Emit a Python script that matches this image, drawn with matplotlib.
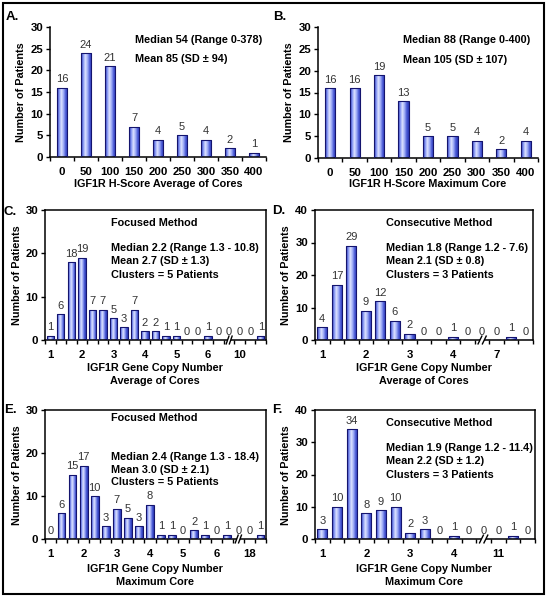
import numpy as np
import matplotlib
matplotlib.use("Agg")
import matplotlib.pyplot as plt
from matplotlib.colors import LinearSegmentedColormap
from matplotlib.patches import Rectangle
from matplotlib.transforms import blended_transform_factory

plt.rcParams['font.family'] = ['Liberation Sans', 'DejaVu Sans']

# data
a_labels = ['0', '50', '100', '150', '200', '250', '300', '350', '400']
a_counts = [16, 24, 21, 7, 4, 5, 4, 2, 1]

b_labels = ['0', '50', '100', '150', '200', '250', '300', '350', '400']
b_counts = [16, 16, 19, 13, 5, 5, 4, 2, 4]

c_labels = ['1', '', '', '2', '', '', '3', '', '', '4', '', '', '5', '', '', '6', '', '', '10', '', '']
c_counts = [1, 6, 18, 19, 7, 7, 5, 3, 7, 2, 2, 1, 1, 0, 0, 1, 0, 0, 0, 0, 1]
c_break = 17

d_labels = ['1', '', '', '2', '', '', '3', '', '', '4', '', '', '7', '', '']
d_counts = [4, 17, 29, 9, 12, 6, 2, 0, 0, 1, 0, 0, 0, 1, 0]
d_break = 11

e_labels = ['1', '', '', '2', '', '', '3', '', '', '4', '', '', '5', '', '', '6', '', '', '18', '']
e_counts = [0, 6, 15, 17, 10, 3, 7, 5, 3, 8, 1, 1, 0, 2, 1, 0, 1, 0, 0, 1]
e_break = 17

f_labels = ['1', '', '', '2', '', '', '3', '', '', '4', '', '', '11', '', '']
f_counts = [3, 10, 34, 8, 9, 10, 2, 3, 0, 1, 0, 0, 0, 1, 0]
f_break = 11

W, H = 547, 600
fig = plt.figure(figsize=(W / 100, H / 100), dpi=100)

grad_cmap = LinearSegmentedColormap.from_list(
    'bar', ['#2c3cbc', '#8494f2', '#dde3ff', '#a0adf6', '#4b5bd6', '#2a38b6'])
grad = np.linspace(0, 1, 64).reshape(1, -1)


def rect(left, top, right, bottom):
    return [left / W, 1 - bottom / H, (right - left) / W, (bottom - top) / H]


def ftext(x, y, s, **kw):
    fig.text(x / W, 1 - y / H, s, va='center', **kw)


def panel(box, labels, counts, ymax, ystep, width, full_box, brk=None):
    ax = fig.add_axes(rect(*box))
    x = np.arange(len(counts))
    bars = ax.bar(x, counts, width=width, facecolor='none',
                  edgecolor='#14146e', linewidth=0.8, zorder=3)
    for p, v in zip(bars.patches, counts):
        if v <= 0:
            continue
        x0 = p.get_x()
        im = ax.imshow(grad, extent=[x0, x0 + p.get_width(), 0, v],
                       aspect='auto', cmap=grad_cmap, zorder=2)
        im.set_clip_path(p)
    for i, v in enumerate(counts):
        ax.annotate(str(v), (i, v), xytext=(0, 2.5), textcoords='offset points',
                    ha='center', va='bottom', fontsize=8, color='#333333')
    ax.set_xlim(-0.5, len(counts) - 0.5)
    ax.set_ylim(0, ymax)
    ax.set_yticks(np.arange(0, ymax + 1, ystep))
    ticks = [i for i, s in enumerate(labels) if s]
    ax.set_xticks(ticks)
    ax.set_xticklabels([labels[i] for i in ticks], fontweight='bold', fontsize=8.2)
    ax.set_xticks(np.arange(-0.5, len(counts)), minor=True)
    ax.tick_params(axis='x', which='major', length=0, pad=7)
    ax.tick_params(axis='x', which='minor', length=3, width=1, direction='out')
    ax.tick_params(axis='y', length=3, width=1, direction='out', pad=2,
                   labelsize=8.2)
    for t in ax.get_yticklabels():
        t.set_fontweight('bold')
    for side in ['left', 'bottom', 'top', 'right']:
        ax.spines[side].set_linewidth(1.1)
    if not full_box:
        ax.spines['top'].set_visible(False)
        ax.spines['right'].set_visible(False)
    if brk is not None:
        tr = blended_transform_factory(ax.transData, ax.transAxes)
        ax.add_patch(Rectangle((brk - 0.15, -0.03), 0.3, 0.06, transform=tr,
                               facecolor='white', edgecolor='none',
                               clip_on=False, zorder=5))
        for dx in (-0.15, 0.15):
            ax.plot([brk + dx - 0.13, brk + dx + 0.13], [-0.03, 0.03],
                    transform=tr, color='black', lw=1, clip_on=False, zorder=6)
    return ax


panel((50, 27, 266, 157), a_labels, a_counts, 30, 5, 0.42, False)
panel((318, 27, 538, 158), b_labels, b_counts, 30, 5, 0.42, False)
panel((45, 210, 266, 340), c_labels, c_counts, 30, 10, 0.7, True, c_break)
panel((315, 210, 533, 340), d_labels, d_counts, 40, 10, 0.7, True, d_break)
panel((45, 410, 266, 539), e_labels, e_counts, 30, 10, 0.7, True, e_break)
panel((315, 410, 535, 539), f_labels, f_counts, 40, 10, 0.7, True, f_break)

bold = dict(fontweight='bold', fontsize=7.8)

# panel letters
for lx, ly, s in [(6, 17, 'A.'), (273, 17, 'B.'), (4, 212, 'C.'),
                  (272, 211, 'D.'), (4, 410, 'E.'), (272, 410, 'F.')]:
    ftext(lx, ly, s, fontweight='bold', fontsize=9.5)

# y labels
for lx, ly in [(21, 92), (289, 92), (17, 275), (286, 275), (17, 475), (286, 475)]:
    ftext(lx, ly, 'Number of Patients', rotation=90, ha='center', **bold)

# x titles
ftext(158, 184, 'IGF1R H-Score Average of Cores', ha='center', **bold)
ftext(428, 184, 'IGF1R H-Score Maximum Core', ha='center', **bold)
ftext(155, 368, 'IGF1R Gene Copy Number', ha='center', **bold)
ftext(155, 381, 'Average of Cores', ha='center', **bold)
ftext(424, 368, 'IGF1R Gene Copy Number', ha='center', **bold)
ftext(424, 381, 'Average of Cores', ha='center', **bold)
ftext(155, 569, 'IGF1R Gene Copy Number', ha='center', **bold)
ftext(155, 582, 'Maximum Core', ha='center', **bold)
ftext(424, 569, 'IGF1R Gene Copy Number', ha='center', **bold)
ftext(424, 582, 'Maximum Core', ha='center', **bold)

# annotations
ftext(135, 40, 'Median 54 (Range 0-378)', **bold)
ftext(135, 59, 'Mean 85 (SD \u00b1 94)', **bold)
ftext(403, 40, 'Median 88 (Range 0-400)', **bold)
ftext(403, 60, 'Mean 105 (SD \u00b1 107)', **bold)

ftext(111, 223, 'Focused Method', **bold)
ftext(111, 248, 'Median 2.2 (Range 1.3 - 10.8)', **bold)
ftext(111, 261, 'Mean 2.7 (SD \u00b1 1.3)', **bold)
ftext(111, 275, 'Clusters = 5 Patients', **bold)

ftext(386, 223, 'Consecutive Method', **bold)
ftext(386, 248, 'Median 1.8 (Range 1.2 - 7.6)', **bold)
ftext(386, 261, 'Mean 2.1 (SD \u00b1 0.8)', **bold)
ftext(386, 275, 'Clusters = 3 Patients', **bold)

ftext(111, 418, 'Focused Method', **bold)
ftext(111, 457, 'Median 2.4 (Range 1.3 - 18.4)', **bold)
ftext(111, 470, 'Mean 3.0 (SD \u00b1 2.1)', **bold)
ftext(111, 482, 'Clusters = 5 Patients', **bold)

ftext(386, 423, 'Consecutive Method', **bold)
ftext(386, 448, 'Median 1.9 (Range 1.2 - 11.4)', **bold)
ftext(386, 461, 'Mean 2.2 (SD \u00b1 1.2)', **bold)
ftext(386, 475, 'Clusters = 3 Patients', **bold)

# outer frame
fig.patches.append(Rectangle((3 / W, 1 - 594 / H), 541 / W, 591 / H,
                             transform=fig.transFigure, fill=False,
                             edgecolor='black', linewidth=1.5))

fig.savefig('out.png', dpi=100)
